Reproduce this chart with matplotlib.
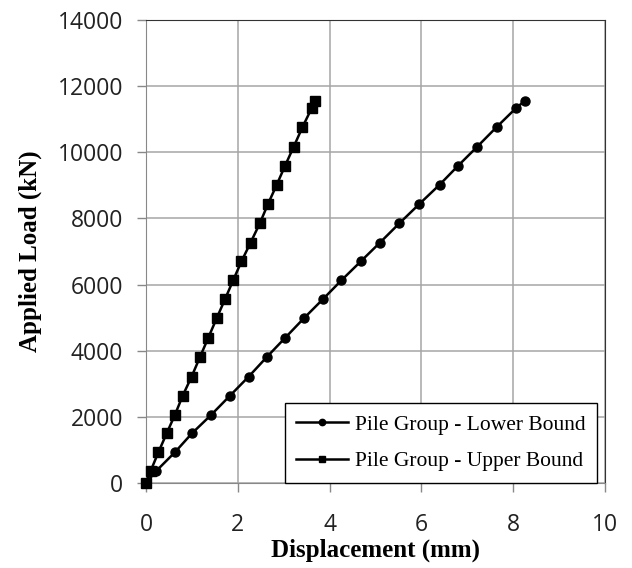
import matplotlib
matplotlib.use("Agg")
import matplotlib.pyplot as plt

# load steps (kN) and displacements (mm)
load_kn = [0, 360, 930, 1500, 2060, 2640, 3220, 3820, 4400, 4980, 5550,
           6130, 6700, 7270, 7850, 8440, 9020, 9590, 10170, 10760, 11330, 11560]
disp_lower = [0, 0.22, 0.63, 1.00, 1.42, 1.83, 2.24, 2.64, 3.04, 3.44, 3.85,
              4.26, 4.68, 5.10, 5.52, 5.96, 6.40, 6.80, 7.22, 7.64, 8.06, 8.26]
disp_upper = [0, 0.10, 0.27, 0.45, 0.63, 0.80, 0.995, 1.18, 1.36, 1.54, 1.72,
              1.90, 2.08, 2.28, 2.48, 2.66, 2.85, 3.03, 3.22, 3.41, 3.61, 3.68]

labels = ["Pile Group - Lower Bound", "Pile Group - Upper Bound"]
x_ticks = [0, 2, 4, 6, 8, 10]
y_ticks = [0, 2000, 4000, 6000, 8000, 10000, 12000, 14000]

fig = plt.figure(figsize=(6.32, 5.68), dpi=100)
ax = fig.add_axes([0.231, 0.1496, 0.726, 0.8152])

# markers at the origin sit on the axes corner, so don't clip them
ax.plot(disp_lower, load_kn, color="black", lw=1.8, marker="o",
        markersize=6.5, label=labels[0], zorder=3, clip_on=False)
ax.plot(disp_upper, load_kn, color="black", lw=1.8, marker="s",
        markersize=6.5, label=labels[1], zorder=3, clip_on=False)

ax.set_xlim(0, 10)
ax.set_ylim(0, 14000)
ax.set_xticks(x_ticks)
ax.set_yticks(y_ticks)
ax.grid(True, color="#a6a6a6", lw=1.1)
ax.set_axisbelow(True)

tick_font = {"family": "Open Sans", "size": 16.5}
ax.set_xticklabels([str(v) for v in x_ticks], **tick_font)
ax.set_yticklabels([str(v) for v in y_ticks], **tick_font)
ax.tick_params(axis="both", direction="out", length=6.5, color="#888888",
               colors="#222222", width=1)
ax.tick_params(axis="x", pad=15)
ax.tick_params(axis="y", pad=10)

for side in ["left", "bottom"]:
    ax.spines[side].set_color("#888888")
for side in ["top", "right"]:
    ax.spines[side].set_color("#333333")

label_font = {"family": "Liberation Serif", "weight": "bold", "size": 18}
ax.set_xlabel("Displacement (mm)", labelpad=1, **label_font)
ax.set_ylabel("Applied Load (kN)", labelpad=11, **label_font)

leg = ax.legend(loc="lower right", bbox_to_anchor=(0.983, 0.0),
                borderaxespad=0, fancybox=False, framealpha=1,
                edgecolor="black", markerscale=0.7, handlelength=2.4,
                handletextpad=0.3, labelspacing=0.75, borderpad=0.55,
                prop={"family": "Liberation Serif", "size": 15.5})
leg.get_frame().set_linewidth(1.0)
leg.set_zorder(5)

fig.savefig("out.png", dpi=100)
